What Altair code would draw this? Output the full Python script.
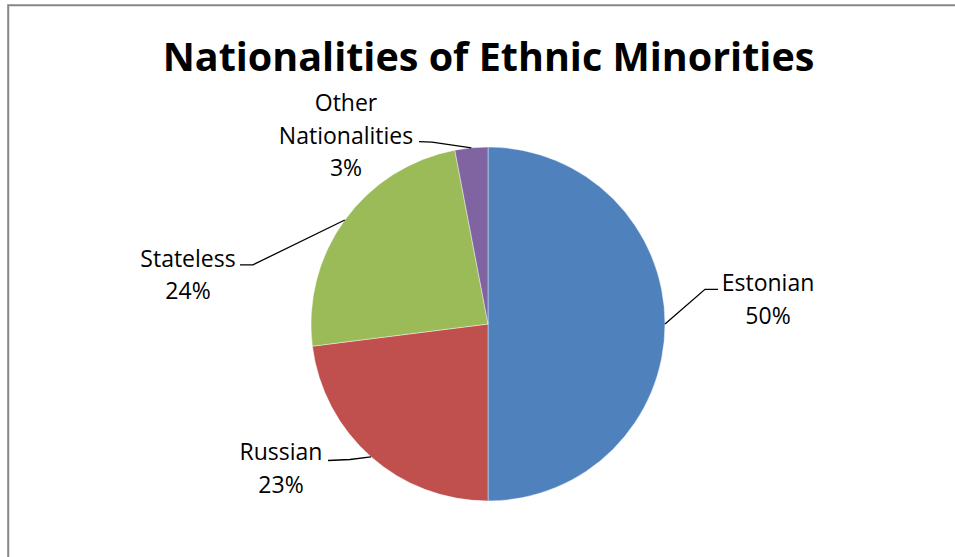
import math
import altair as alt
import pandas as pd

# ---- data ----
names = ["Estonian", "Russian", "Stateless", "Other Nationalities"]
values = [50, 23, 24, 3]
label_lines = [["Estonian", "50%"], ["Russian", "23%"], ["Stateless", "24%"], ["Other", "Nationalities", "3%"]]
colors = ["#4F81BD", "#C0504D", "#9BBB59", "#8064A2"]
title_text = "Nationalities of Ethnic Minorities"

# ---- layout ----
W, H = 955, 557
CX, CY, R = 488, 324, 177
FONT = "Open Sans"
LABEL_SIZE = 23
LINE_H = 32.5
# label anchor: centre x, first baseline y
label_pos = [(768, 291), (281, 460), (188, 266.5), (346, 111)]
# leader line: label end point, kink point
leader_pts = [[(718, 289.3), (705, 289.3)],
              [(328, 460.5), (350, 459.5)],
              [(240, 264.8), (253, 264.8)],
              [(419, 141.6), (432, 142.2)]]

total = sum(values)
pie_df = pd.DataFrame({"name": names, "value": values, "order": list(range(len(names)))})

# leader lines: end at slice mid-angle on the pie edge
rows = []
cum = 0
for i, v in enumerate(values):
    mid = (cum + v / 2) / total * 2 * math.pi
    cum += v
    ex, ey = CX + R * math.sin(mid), CY - R * math.cos(mid)
    pts = leader_pts[i] + [(ex, ey)]
    for k, (px, py) in enumerate(pts):
        rows.append({"name": names[i], "k": k, "x": px, "y": py})
lead_df = pd.DataFrame(rows)

trows = []
for i, lines in enumerate(label_lines):
    lx, ly = label_pos[i]
    for j, t in enumerate(lines):
        trows.append({"t": t, "x": lx, "y": ly + j * LINE_H})
text_df = pd.DataFrame(trows)

xs = alt.Scale(domain=[0, W], range=[0, W])
ys = alt.Scale(domain=[0, H], range=[0, H])

border = alt.Chart(pd.DataFrame({"a": [0]})).mark_rect(
    fill=None, stroke="#878787", strokeWidth=2
).encode(x=alt.value(8.2), x2=alt.value(W + 20), y=alt.value(5.3), y2=alt.value(H + 20))

pie = alt.Chart(pie_df).mark_arc(radius=R, stroke="#ffffff", strokeWidth=0.6, strokeOpacity=0.7).encode(
    theta=alt.Theta("value:Q", stack=True),
    order=alt.Order("order:Q"),
    color=alt.Color("name:N", scale=alt.Scale(domain=names, range=colors), legend=None),
    x=alt.value(CX),
    y=alt.value(CY),
)

leaders = alt.Chart(lead_df).mark_line(color="#000000", strokeWidth=1.3).encode(
    x=alt.X("x:Q", scale=xs, axis=None),
    y=alt.Y("y:Q", scale=ys, axis=None),
    detail="name:N",
    order="k:Q",
)

labels = alt.Chart(text_df).mark_text(
    font=FONT, fontSize=LABEL_SIZE, align="center", baseline="alphabetic", color="#000000"
).encode(
    x=alt.X("x:Q", scale=xs, axis=None),
    y=alt.Y("y:Q", scale=ys, axis=None),
    text="t:N",
)

title = alt.Chart(pd.DataFrame({"t": [title_text]})).mark_text(
    font=FONT, fontSize=39.5, fontWeight="bold", align="center", baseline="alphabetic", color="#000000"
).encode(x=alt.value(488.5), y=alt.value(71), text="t:N")

chart = alt.layer(border, pie, leaders, labels, title).properties(
    width=W, height=H, autosize="none", padding=0, background="#ffffff"
).configure_view(stroke=None)

chart.save("out.html", embed_options={"renderer": "svg", "actions": False})
